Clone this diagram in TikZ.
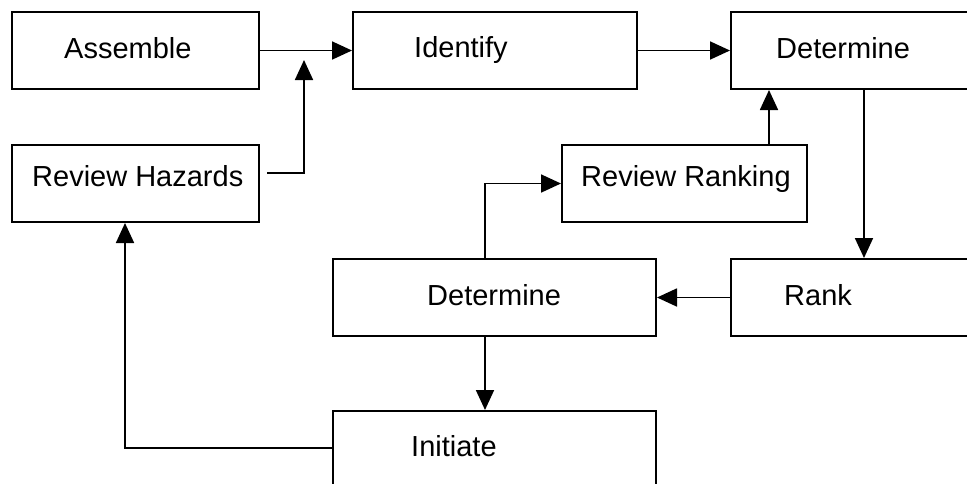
\documentclass[tikz,border=0pt]{standalone}
\usepackage{fontspec}
\setmainfont{Liberation Sans}
\usetikzlibrary{arrows.meta}
\begin{document}
\begin{tikzpicture}[x=1pt,y=-1pt,
  box/.style={draw, line width=2pt, rectangle, inner sep=0pt},
  txt/.style={anchor=base west, inner sep=0pt, font=\fontsize{29}{35}\selectfont},
  conn/.style={line width=1.8pt},
  arr/.style={conn, -{Triangle[length=20pt,width=18pt]}}]
\clip (0,0) rectangle (967,483);
\fill[white] (0,0) rectangle (967,483);
% boxes
\node[box, minimum width=247pt, minimum height=77pt] (assemble) at (135.5,50.5) {};
\node[box, minimum width=284pt, minimum height=77pt] (identify) at (495,50.5) {};
\node[box, minimum width=249pt, minimum height=77pt] (det1) at (855.5,50.5) {};
\node[box, minimum width=247pt, minimum height=77pt] (hazards) at (135.5,183.5) {};
\node[box, minimum width=245pt, minimum height=77pt] (ranking) at (684.5,183.5) {};
\node[box, minimum width=323pt, minimum height=77pt] (det2) at (494.5,297.5) {};
\node[box, minimum width=249pt, minimum height=77pt] (rank) at (855.5,297.5) {};
\node[box, minimum width=323pt, minimum height=89pt] (initiate) at (494.5,455.5) {};
% texts
\node[txt] (tAssemble) at (64,58) {Assemble};
\node[txt] (tIdentify) at (414,57) {Identify};
\node[txt] (tDet1) at (776,58) {Determine};
\node[txt] (tHazards) at (32,186) {Review Hazards};
\node[txt] (tRanking) at (581,186) {Review Ranking};
\node[txt] (tDet2) at (427,305) {Determine};
\node[txt] (tRank) at (784,305) {Rank};
\node[txt] (tInitiate) at (411,456) {Initiate};
% free ends
\coordinate (hzout) at (267,173);
\coordinate (jn) at (304,60);
% connectors
\draw[arr] (assemble.east) -- (identify.west);
\draw[arr] (hzout) -| (jn);
\draw[arr] (identify.east) -- (det1.west);
\draw[arr] (ranking.north -| 769,0) -- (det1.south -| 769,0);
\draw[arr] (det1.south -| 864,0) -- (rank.north -| 864,0);
\draw[arr] (rank.west) -- (det2.east);
\draw[arr] (det2.north -| 485,0) |- (ranking.west);
\draw[arr] (det2.south -| 485,0) -- (initiate.north -| 485,0);
\draw[arr] (initiate.west |- 0,448) -| (hazards.south -| 125,0);
\end{tikzpicture}
\end{document}
